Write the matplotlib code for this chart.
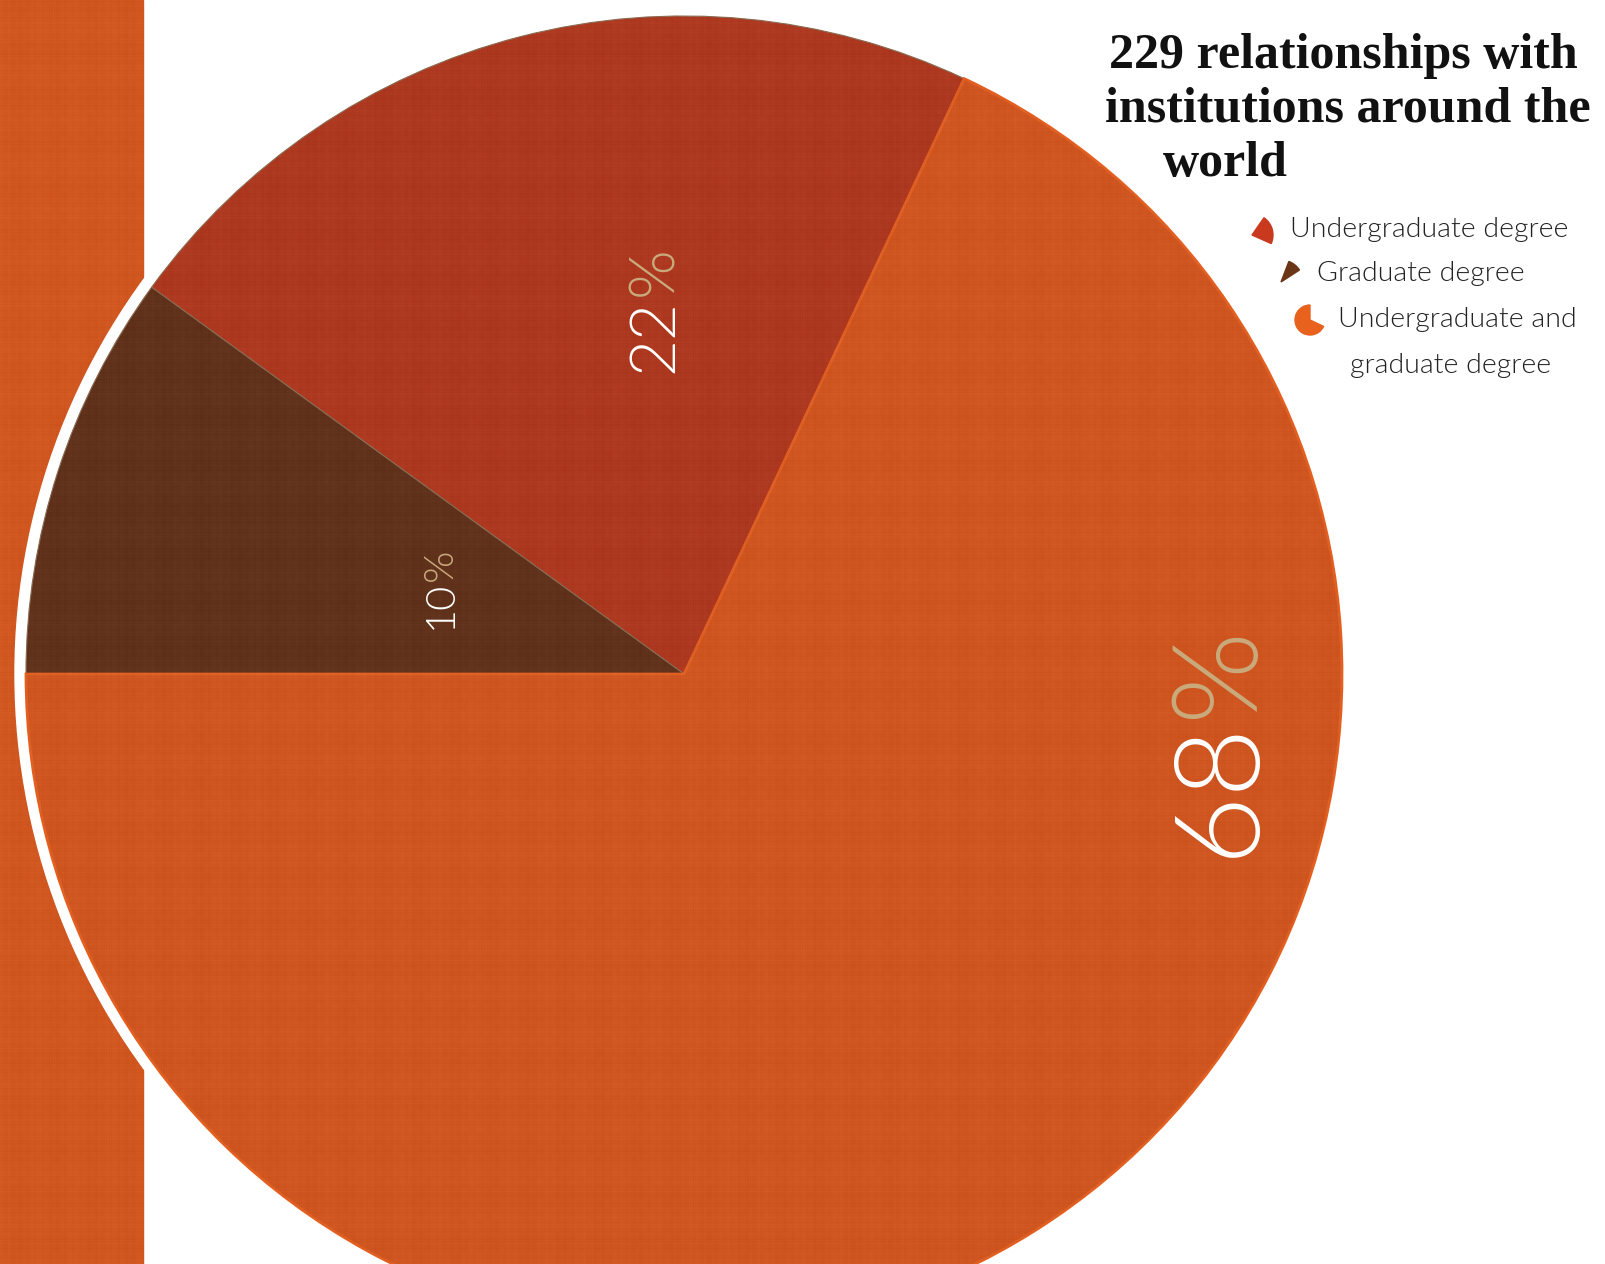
import matplotlib
matplotlib.use("Agg")
import numpy as np
import matplotlib.pyplot as plt
from matplotlib.patches import Circle, Rectangle, Wedge

# share of the 229 institutional relationships by degree type
labels = ["Undergraduate degree", "Graduate degree", "Undergraduate and\ngraduate degree"]
shares = [22, 10, 68]
pie_colors = ["#B0341A", "#5E2D15", "#D4531A"]
icon_colors = ["#C9391D", "#6B3517", "#E8621E"]
pct_color = "#C9AA7C"

W, H = 1605, 1264
fig = plt.figure(figsize=(W / 100, H / 100), dpi=100)
ax = fig.add_axes([0, 0, 1, 1])


def yy(y):
    # pixel rows counted from the top
    return H - y


cx, cy, r = 684, yy(674), 658

# orange strip on the left and the white ring around the pie
strip = Rectangle((0, 0), 143, H, color="#D6541A", zorder=0)
ax.add_patch(strip)
ax.add_patch(Circle((cx, cy), r + 11, color="white", zorder=1))

wedges, _ = ax.pie(shares, colors=pie_colors, startangle=64.8, center=(cx, cy),
                   radius=r, frame=True,
                   wedgeprops=dict(linewidth=0.8, edgecolor="#8a6a50"))
for w in wedges:
    w.set_zorder(2)
wedges[2].set_edgecolor("#E55E1E")
wedges[2].set_linewidth(2)

# faint linen weave over the coloured areas
xs = np.arange(W)
ys = np.arange(H)
rows = sum(np.sin(ys * f + p) for f, p in [(0.71, 0.3), (1.93, 1.1), (0.137, 2.0), (3.07, 0.7)])
cols = sum(np.sin(xs * f + p) for f, p in [(0.83, 0.9), (2.41, 0.2), (0.173, 1.4), (2.97, 2.5)])
weave = rows[:, None] * 0.5 + cols[None, :] * 0.5 + 0.35 * np.outer(np.sin(ys * 0.29), np.sin(xs * 0.37))
for clip, z in ((strip, 0.5), (Circle((cx, cy), r, transform=ax.transData), 3)):
    im = ax.imshow(weave, extent=(0, W, H, 0), cmap="gray", alpha=0.06,
                   interpolation="bilinear", zorder=z)
    im.set_clip_path(clip)

ax.set_xlim(0, W)
ax.set_ylim(0, H)
ax.set_aspect("equal")
ax.axis("off")

pct_font = dict(family=["Lato", "DejaVu Sans"], weight=300)


def pct_label(value, x_base, y_bottom, size, gap):
    t = ax.text(x_base, yy(y_bottom), str(value), rotation=90, rotation_mode="anchor",
                ha="left", va="baseline", color="white", fontsize=size, zorder=5, **pct_font)
    fig.canvas.draw()
    bb = t.get_window_extent().transformed(ax.transData.inverted())
    ax.text(x_base, bb.y1 + gap, "%", rotation=90, rotation_mode="anchor",
            ha="left", va="baseline", color=pct_color, fontsize=size, zorder=5, **pct_font)


pct_label(shares[2], 1252, 857, 86, 1)
pct_label(shares[0], 672, 373, 46, 3)
pct_label(shares[1], 452, 629, 30, 0)

# title
title_font = dict(family=["Liberation Serif", "DejaVu Serif"], weight="bold",
                  fontsize=36, color="#111111")
ax.text(1343, yy(56), "229 relationships with", ha="center", va="center", **title_font)
ax.text(1348, yy(110), "institutions around the", ha="center", va="center", **title_font)
ax.text(1225, yy(164), "world", ha="center", va="center", **title_font)

# legend with small wedge icons
leg_font = dict(family=["Lato", "DejaVu Sans"], weight=300, fontsize=20.5, color="#222222")
ax.add_patch(Wedge((1252, yy(235)), 21, -24, -24 + 3.6 * shares[0], color=icon_colors[0], zorder=4))
ax.add_patch(Wedge((1281, yy(282)), 22, 33, 33 + 3.6 * shares[1], color=icon_colors[1], zorder=4))
ax.add_patch(Wedge((1310, yy(320)), 15, 90, 90 + 3.6 * shares[2], color=icon_colors[2], zorder=4))

ax.text(1290, yy(229), labels[0], ha="left", va="center", **leg_font)
ax.text(1317, yy(274), labels[1], ha="left", va="center", **leg_font)
ax.text(1338, yy(319), labels[2].split("\n")[0], ha="left", va="center", **leg_font)
ax.text(1350, yy(365), labels[2].split("\n")[1], ha="left", va="center", **leg_font)

fig.savefig("out.png", dpi=100, facecolor="white")
